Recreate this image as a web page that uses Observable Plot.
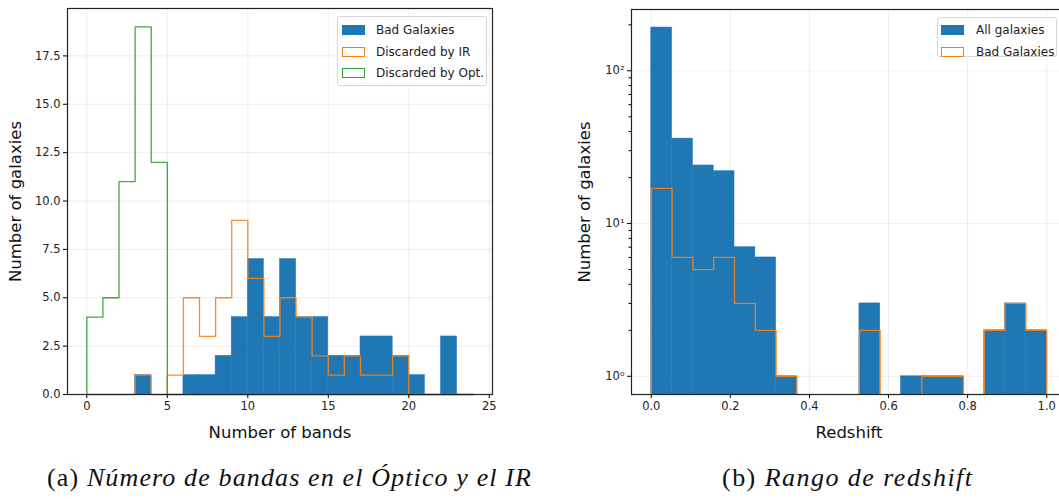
<!DOCTYPE html>
<html>
<head>
<meta charset="utf-8">
<script src="https://cdn.jsdelivr.net/npm/d3@7"></script>
<script src="https://cdn.jsdelivr.net/npm/@observablehq/plot@0.6"></script>
<style>
  html, body { margin: 0; padding: 0; background: #fff; overflow: hidden; }
  #wrap { position: relative; width: 1059px; height: 499px; overflow: hidden; }
  .panel { position: absolute; top: 0; }
  .panel svg { max-width: none !important; }
  .panel svg text { font-family: "DejaVu Sans", sans-serif; }
  .panel g[aria-label="x-axis tick label"], .panel g[aria-label="y-axis tick label"] { font-size: 11.5px; fill: #222; }
  .panel g[aria-label="x-axis label"], .panel g[aria-label="y-axis label"] { font-size: 16.5px; fill: #111; }
  .legend { position: absolute; background: rgba(255,255,255,0.85); border: 1px solid #d6d6d6; border-radius: 3px;
            font-family: "DejaVu Sans", sans-serif; font-size: 12px; color: #222; box-sizing: border-box; }
  .legend .row { position: absolute; left: 0; height: 14px; line-height: 14px; white-space: nowrap; }
  .legend .sw { position: absolute; left: 4px; top: 2px; width: 23px; height: 10px; box-sizing: border-box; }
  .legend .lab { position: absolute; left: 38px; top: 0; }
  #captions { position: absolute; left: 0; top: 450px; }
</style>
</head>
<body>
<div id="wrap">
  <div id="left" class="panel" style="left:0; width:530px"></div>
  <div id="right" class="panel" style="left:530px; width:540px"></div>
  <div class="legend" style="left:337px; top:16px; width:150px; height:70px">
    <div class="row" style="top:6px"><div class="sw" style="background:#1f77b4"></div><span class="lab">Bad Galaxies</span></div>
    <div class="row" style="top:28px"><div class="sw" style="border:1.5px solid #ff7f0e"></div><span class="lab">Discarded by IR</span></div>
    <div class="row" style="top:49px"><div class="sw" style="border:1.5px solid #2ca02c"></div><span class="lab">Discarded by Opt.</span></div>
  </div>
  <div class="legend" style="left:937px; top:17px; width:120px; height:40px">
    <div class="row" style="top:5px"><div class="sw" style="left:3px; background:#1f77b4"></div><span class="lab">All galaxies</span></div>
    <div class="row" style="top:27px"><div class="sw" style="left:3px; border:1.5px solid #ff7f0e"></div><span class="lab">Bad Galaxies</span></div>
  </div>
  <svg id="captions" width="1059" height="49"></svg>
</div>
<script>
// ---- Panel (a): number of photometric bands per galaxy ----
const bandEdges = [0, 1, 2, 3, 4, 5, 6, 7, 8, 9, 10, 11, 12, 13, 14, 15, 16, 17, 18, 19, 20, 21, 22, 23, 24];
const badGalaxiesBands = [0, 0, 0, 1, 0, 0, 1, 1, 2, 4, 7, 4, 7, 4, 4, 2, 2, 3, 3, 2, 1, 0, 3, 0];
const discardedIRBands = [0, 0, 0, 1, 0, 1, 5, 3, 5, 9, 6, 3, 5, 4, 2, 1, 2, 1, 1, 2, 0, 0, 0, 0];
const discardedOptBands = [4, 5, 11, 19, 12, 0, 0, 0, 0, 0, 0, 0, 0, 0, 0, 0, 0, 0, 0, 0, 0, 0, 0, 0];
const bandTicksX = [0, 5, 10, 15, 20, 25];
const bandTicksY = [0, 2.5, 5, 7.5, 10, 12.5, 15, 17.5];

// ---- Panel (b): redshift distribution ----
const zEdges = [0, 0.0526, 0.1053, 0.1579, 0.2105, 0.2632, 0.3158, 0.3684, 0.4211, 0.4737,
                0.5263, 0.5789, 0.6316, 0.6842, 0.7368, 0.7895, 0.8421, 0.8947, 0.9474, 1.0];
const allGalaxiesZ = [192, 36, 24, 22, 7, 6, 1, 0, 0, 0, 3, 0, 1, 1, 1, 0, 2, 3, 2];
const badGalaxiesZ = [17, 6, 5, 6, 3, 2, 1, 0, 0, 0, 2, 0, 0, 1, 1, 0, 2, 3, 2];
const zTicksX = [0, 0.2, 0.4, 0.6, 0.8, 1.0];
const zTicksY = [1, 10, 100];
const zMinorTicksY = [2, 3, 4, 5, 6, 7, 8, 9, 20, 30, 40, 50, 60, 70, 80, 90, 200];

const blue = "#1f77b4", orange = "#ff7f0e", green = "#2ca02c";
const gridStyle = {stroke: "#b0b0b0", strokeOpacity: 0.22, strokeWidth: 1};

// histogram bars: one rect per non-empty bin
function bars(edges, counts) {
  return counts.map((c, i) => ({x1: edges[i], x2: edges[i + 1], y: c})).filter(d => d.y > 0);
}
// outline of a step histogram (matplotlib histtype="step"), floor used for log axes
function stepOutline(edges, counts, floor = 0) {
  const v = c => Math.max(c, floor);
  const pts = [{x: edges[0], y: floor}];
  counts.forEach((c, i) => pts.push({x: edges[i], y: v(c)}));
  pts.push({x: edges[edges.length - 1], y: v(counts[counts.length - 1])});
  pts.push({x: edges[edges.length - 1], y: floor});
  return pts;
}

const left = Plot.plot({
  width: 530, height: 450,
  marginLeft: 67, marginRight: 38, marginTop: 8, marginBottom: 56,
  style: {fontFamily: "DejaVu Sans", background: "transparent", overflow: "visible"},
  x: {domain: [-1.2, 25.2]},
  y: {domain: [0, 19.95]},
  marks: [
    Plot.gridX(bandTicksX, gridStyle),
    Plot.gridY(bandTicksY, gridStyle),
    Plot.rectY(bars(bandEdges, badGalaxiesBands), {x1: "x1", x2: "x2", y1: 0, y2: "y", fill: blue, stroke: blue, strokeWidth: 0.5}),
    Plot.line(stepOutline(bandEdges, discardedIRBands), {x: "x", y: "y", curve: "step-after", stroke: orange, strokeWidth: 1.3, strokeOpacity: 0.9}),
    Plot.line(stepOutline(bandEdges, discardedOptBands), {x: "x", y: "y", curve: "step-after", stroke: green, strokeWidth: 1.3, strokeOpacity: 0.9}),
    Plot.frame({stroke: "#222", strokeWidth: 1.2}),
    Plot.axisX({ticks: bandTicksX, tickSize: 4, tickPadding: 3, label: "Number of bands", labelAnchor: "center", labelArrow: "none", labelOffset: 43}),
    Plot.axisY({ticks: bandTicksY, tickSize: 4, tickPadding: 3, tickFormat: d3.format(".1f"), label: "Number of galaxies", labelAnchor: "center", labelArrow: "none", labelOffset: 58})
  ]
});
document.getElementById("left").append(left);

const zFloor = 0.5;
const right = Plot.plot({
  width: 540, height: 450,
  marginLeft: 101, marginRight: 4, marginTop: 9, marginBottom: 56,
  style: {fontFamily: "DejaVu Sans", background: "transparent", overflow: "visible"},
  x: {domain: [-0.05, 1.05]},
  y: {type: "log", domain: [0.76, 252]},
  marks: [
    Plot.gridX(zTicksX, gridStyle),
    Plot.gridY(zTicksY, gridStyle),
    Plot.rect(bars(zEdges, allGalaxiesZ), {x1: "x1", x2: "x2", y1: zFloor, y2: "y", fill: blue, stroke: blue, strokeWidth: 0.5, clip: true}),
    Plot.line(stepOutline(zEdges, badGalaxiesZ, zFloor), {x: "x", y: "y", curve: "step-after", stroke: orange, strokeWidth: 1.3, strokeOpacity: 0.9, clip: true}),
    Plot.frame({stroke: "#222", strokeWidth: 1.2}),
    Plot.axisX({ticks: zTicksX, tickSize: 4, tickPadding: 3, tickFormat: d3.format(".1f"), label: "Redshift", labelAnchor: "center", labelArrow: "none", labelOffset: 43}),
    Plot.axisY({ticks: zMinorTicksY, tickSize: 2.5, tickFormat: () => "", label: null}),
    Plot.axisY({ticks: zTicksY, tickSize: 4, tickPadding: 3, tickFormat: d => "10" + "⁰¹²"[Math.round(Math.log10(d))], label: "Number of galaxies", labelAnchor: "center", labelArrow: "none", labelOffset: 53})
  ]
});
document.getElementById("right").append(right);

// ---- Sub-figure captions ----
const captions = [
  {tag: "(a) ", text: "Número de bandas en el Óptico y el IR", x: 47, width: 484},
  {tag: "(b) ", text: "Rango de redshift", x: 722, width: 250}
];
const cap = d3.select("#captions");
for (const c of captions) {
  const t = cap.append("text")
    .attr("x", c.x).attr("y", 36)
    .attr("textLength", c.width).attr("lengthAdjust", "spacing")
    .style("font-family", "'Liberation Serif', serif").style("font-size", "26px").style("fill", "#111");
  t.append("tspan").text(c.tag);
  t.append("tspan").style("font-style", "italic").text(c.text);
}
</script>
</body>
</html>
